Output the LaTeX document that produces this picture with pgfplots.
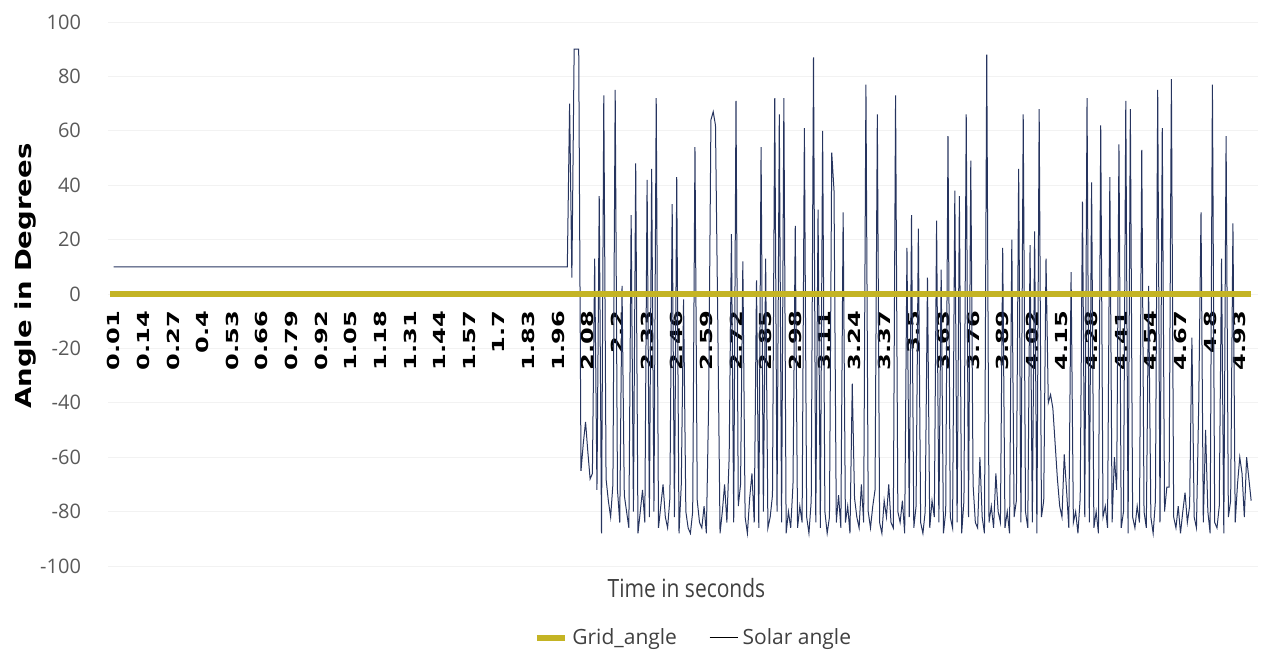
\documentclass[border=0pt]{standalone}
\usepackage{fontspec}
\setmainfont{DejaVu Sans}
\newfontfamily\lightfont{Open Sans}
\usepackage{graphicx}
\usepackage{pgfplots}
\pgfplotsset{compat=1.18}
\usepackage{pgfplotstable}

\definecolor{gridcol}{RGB}{196,180,36}
\definecolor{solarcol}{RGB}{38,52,95}
\definecolor{tickgray}{RGB}{89,89,89}

% stretched bold tick labels, as in the source chart
\newcommand{\xl}[1]{\scalebox{1.45}[1]{#1}}

% sample index (0 = 0.01 s) and solar angle
\pgfplotstableread{
i v
0 10
199 10
200 70
201 6
202 90
204 90
205 -65
206 -55
207 -47
208 -58
209 -68
210 -66
211 13
212 -72
213 36
214 -88
215 73
216 -68
217 -76
218 -82
219 -70
220 75
221 -72
222 -84
223 3
224 -74
225 -80
226 -86
227 29
228 -80
229 48
230 -88
231 -80
232 -72
233 -84
234 42
235 -82
236 46
237 -80
238 72
239 -86
240 -78
241 -70
242 -82
243 -86
244 -75
245 33
246 -82
247 43
248 -88
249 -70
250 -2
251 -80
252 -86
253 -88
254 -80
255 54
256 -76
257 -84
258 -86
259 -78
260 -88
261 -40
262 64
263 67
264 62
265 -10
266 -88
267 -80
268 -70
269 -84
270 -60
271 22
272 -84
273 71
274 -78
275 -70
276 12
277 -82
278 -88
279 -75
280 -66
281 -84
282 5
283 -86
284 54
285 -80
286 13
287 -86
288 -82
289 -74
290 72
291 -80
292 66
293 -84
294 72
295 -88
296 -80
297 -86
298 -70
299 25
300 -86
301 -78
302 -84
303 61
304 -82
305 -88
306 -76
307 87
308 -84
309 31
310 -86
311 60
312 -80
313 -88
314 -82
315 52
316 38
317 -84
318 -74
319 -86
320 30
321 -84
322 -78
323 -88
324 -33
325 -75
326 -82
327 -86
328 -70
329 -84
330 77
331 -80
332 -86
333 -78
334 -72
335 66
336 -84
337 -88
338 -76
339 -82
340 -70
341 -84
342 -86
343 73
344 -80
345 -84
346 -76
347 -88
348 17
349 -82
350 29
351 -86
352 -78
353 24
354 -84
355 -88
356 -80
357 6
358 -86
359 -76
360 -82
361 27
362 -84
363 9
364 -88
365 -80
366 58
367 -82
368 -86
369 38
370 -84
371 36
372 -88
373 -76
374 66
375 -82
376 49
377 -70
378 -84
379 -86
380 -60
381 -82
382 -88
383 88
384 -84
385 -78
386 -86
387 -66
388 -80
389 -84
390 17
391 -86
392 -80
393 -88
394 20
395 -82
396 -76
397 46
398 -84
399 66
400 -80
401 -86
402 18
403 -84
404 23
405 -88
406 68
407 -82
408 -76
409 13
410 -40
411 -37
412 -42
413 -55
414 -68
415 -78
416 -82
417 -59
418 -72
419 -86
420 8
421 -84
422 -80
423 -88
424 -75
425 34
426 -82
427 72
428 -84
429 41
430 -86
431 -80
432 -88
433 62
434 -82
435 -78
436 -86
437 43
438 -84
439 -60
440 -72
441 55
442 -86
443 -80
444 71
445 -88
446 68
447 -82
448 -86
449 -78
450 -84
451 53
452 -80
453 -86
454 3
455 -82
456 -88
457 -76
458 75
459 -84
460 61
461 -80
462 -71
463 -71
464 79
465 -82
466 -86
467 -78
468 -88
469 -80
470 -73
471 -84
472 -78
473 -16
474 -82
475 -86
476 -40
477 30
478 -84
479 -50
480 -80
481 -88
482 77
483 -84
484 -86
485 -78
486 13
487 -88
488 58
489 -82
490 -76
491 26
492 -84
493 -70
494 -60
495 -66
496 -82
497 -60
498 -68
499 -76
}\solar

\begin{document}
\begin{tikzpicture}
\begin{axis}[
    scale only axis,
    width=575pt, height=272pt,
    xmin=-2.5, xmax=502,
    ymin=-100, ymax=100,
    axis x line=middle,
    axis y line=left,
    x axis line style={draw=none},
    y axis line style={draw=none},
    major tick length=0pt,
    xtick={0,13,...,494},
    xticklabels={\xl{0.01},\xl{0.14},\xl{0.27},\xl{0.4},\xl{0.53},\xl{0.66},\xl{0.79},\xl{0.92},\xl{1.05},\xl{1.18},\xl{1.31},\xl{1.44},\xl{1.57},\xl{1.7},\xl{1.83},\xl{1.96},\xl{2.08},\xl{2.2},\xl{2.33},\xl{2.46},\xl{2.59},\xl{2.72},\xl{2.85},\xl{2.98},\xl{3.11},\xl{3.24},\xl{3.37},\xl{3.5},\xl{3.63},\xl{3.76},\xl{3.89},\xl{4.02},\xl{4.15},\xl{4.28},\xl{4.41},\xl{4.54},\xl{4.67},\xl{4.8},\xl{4.93}},
    xticklabel style={rotate=90, anchor=east, font=\fontsize{8.3}{10}\selectfont\bfseries, xshift=-5pt},
    ytick={-100,-80,...,100},
    yticklabel style={font=\lightfont\fontsize{10}{12}\selectfont, text=tickgray, xshift=-10pt},
    /pgf/number format/assume math mode=true,
    ymajorgrids=true,
    grid style={gray!10, line width=0.4pt},
    ylabel={\scalebox{1.25}[1]{Angle in Degrees}},
    ylabel style={font=\fontsize{11}{13}\selectfont\bfseries, at={(axis description cs:-0.072,0.533)}, anchor=center},
    xlabel={\scalebox{1}[1.2]{Time in seconds}},
    xlabel style={font=\lightfont\fontsize{10.5}{12}\selectfont, text=black!75, at={(axis description cs:0.503,-0.040)}, anchor=center},
    legend style={draw=none, font=\lightfont\fontsize{10.5}{12}\selectfont, text=black!75, at={(axis description cs:0.51,-0.132)}, anchor=center, legend columns=2, /tikz/every even column/.append style={column sep=14pt}},
    legend image code/.code={\draw[#1] (0,0) -- (0.5cm,0);},
    clip=false,
]
\addplot[solarcol, line width=0.5pt, forget plot] table[x=i, y=v] {\solar};
\addplot[gridcol, line width=3pt] coordinates {(-1.5,0) (499,0)};
\addlegendentry{Grid\_angle}
\addlegendimage{black, line width=0.6pt}
\addlegendentry{Solar angle}
\end{axis}
\path ([yshift=11pt]current axis.north west);
\path ([xshift=-54pt]current axis.west);
\path ([xshift=2.5pt]current axis.east);
\path ([yshift=-46pt]current axis.south);
\end{tikzpicture}
\end{document}
